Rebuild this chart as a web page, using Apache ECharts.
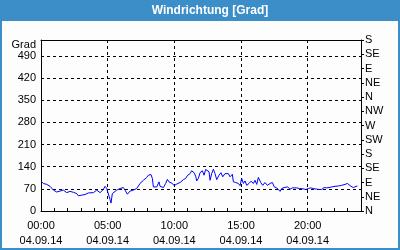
<!DOCTYPE html>
<html>
<head>
<meta charset="utf-8">
<script src="https://cdn.jsdelivr.net/npm/echarts@6/dist/echarts.min.js"></script>
<style>html,body{margin:0;padding:0;background:#fff}#c{width:400px;height:250px}</style>
</head>
<body>
<div id="c"></div>
<script>
var titleText = 'Windrichtung [Grad]';
var dateLabel = '04.09.14';
var leftAxisName = 'Grad';
var compassLabels = ['N','NE','E','SE','S','SW','W','NW','N','NE','E','SE','S'];
// hours since 00:00
var times = [0,0.18,0.43,0.68,0.93,1.18,1.43,1.68,1.93,2.18,2.43,2.68,2.8,3.05,3.3,3.55,3.68,3.93,4.18,4.43,4.68,4.8,4.93,5.05,5.18,5.25,5.35,5.48,5.68,5.93,6.18,6.3,6.48,6.68,6.93,7.18,7.43,7.68,7.93,
 8.05,8.25,8.35,8.43,8.68,8.85,8.93,9.05,9.18,9.35,9.48,9.6,9.75,9.85,9.98,10.18,10.43,10.68,10.85,11.0,11.18,11.3,11.48,11.6,11.68,11.8,11.93,12.1,12.23,12.35,12.48,12.6,12.68,12.8,12.93,13.05,13.18,13.35,13.5,13.63,13.8,13.93,14.05,14.18,14.35,14.43,14.6,14.8,14.93,15.05,15.18,15.3,15.43,15.6,15.75,15.93,
 16.05,16.18,16.3,16.48,16.63,16.8,16.98,17.18,17.35,17.5,17.68,17.8,17.93,18.05,18.23,18.38,18.5,18.68,18.85,19.0,19.18,19.38,19.55,19.68,19.85,20.05,20.23,20.43,20.55,20.68,20.85,21.05,21.23,21.43,21.6,21.8,22.05,22.3,22.55,22.8,22.98,23.13,23.25,23.43,23.63,23.73];
var values = [94,87,84,78,66,60,63,66,58,62,59,55,48,50,52,57,62,58,66,58,68,78,71,66,36,25,55,60,66,71,74,66,53,63,66,71,87,97,106,
 113,115,103,76,76,92,78,81,74,87,100,92,95,87,80,85,90,99,103,113,118,127,121,110,95,103,121,127,113,131,134,124,97,118,132,118,99,113,121,108,118,113,118,108,116,92,90,87,80,103,87,95,81,87,94,87,
 97,84,106,90,81,90,81,87,90,76,73,74,62,71,74,71,76,69,73,73,73,71,71,69,68,71,73,71,73,69,68,68,74,73,74,76,78,79,81,84,87,85,78,74,78,79];

var seriesData = times.map(function(t,i){return [t, values[i]];});
function pad(n){return (n<10?'0':'')+n;}
var font = 'Liberation Sans, Arial, sans-serif';
var chart = echarts.init(document.getElementById('c'), null, {renderer:'canvas'});
chart.setOption({
  animation:false,
  backgroundColor:'#fcfdfc',
  graphic:[
    {type:'rect', shape:{x:0,y:0,width:400,height:21}, style:{fill:'#3b8ec7'}, z:10},
    {type:'rect', shape:{x:1,y:1,width:398,height:248}, style:{fill:'none', stroke:'#3b8ec7', lineWidth:2}, z:10},
    {type:'text', x:210, y:11, style:{text:titleText, fill:'#ffffff', font:'bold 12px '+font, textAlign:'center', textVerticalAlign:'middle'}, z:11}
  ],
  grid:{left:41,right:39,top:40,bottom:39},
  xAxis:[
    {type:'value', min:0, max:24, interval:1, position:'bottom',
     axisLine:{show:true, onZero:false, lineStyle:{color:'#000', width:1}},
     axisTick:{show:true, inside:true, length:3, lineStyle:{color:'#000'}},
     splitLine:{show:false},
     axisLabel:{margin:7, color:'#000', fontFamily:font, fontSize:11, lineHeight:15,
       formatter:function(v){ if (v%5!==0 || v>=24) return ''; return pad(v)+':00\n'+dateLabel; }}},
    {type:'value', min:0, max:24, interval:5, position:'top',
     axisLine:{show:true, onZero:false, lineStyle:{color:'#000', width:1}},
     axisTick:{show:false}, axisLabel:{show:false},
     splitLine:{show:true, showMinLine:false, showMaxLine:false, lineStyle:{color:'#000', type:[3,3], width:1}}}
  ],
  yAxis:[
    {type:'value', min:0, max:540, interval:70, position:'left',
     name:leftAxisName, nameLocation:'end', nameGap:-6,
     nameTextStyle:{color:'#000', fontFamily:font, fontSize:11, align:'right', verticalAlign:'middle', padding:[0,5,0,0]},
     axisLine:{show:true, onZero:false, lineStyle:{color:'#000', width:1}},
     axisTick:{show:false},
     axisLabel:{margin:5, color:'#000', fontFamily:font, fontSize:11, showMaxLabel:false},
     splitLine:{show:true, showMinLine:false, showMaxLine:false, lineStyle:{color:'#000', type:[3,3], width:1}}},
    {type:'value', min:0, max:540, interval:45, position:'right',
     axisLine:{show:true, onZero:false, lineStyle:{color:'#000', width:1}},
     axisTick:{show:true, inside:false, length:3, lineStyle:{color:'#000'}},
     axisLabel:{margin:4, color:'#000', fontFamily:font, fontSize:11,
       formatter:function(v){ return compassLabels[Math.round(v/45)] || ''; }},
     splitLine:{show:false}}
  ],
  series:[{type:'line', xAxisIndex:0, yAxisIndex:0, data:seriesData, showSymbol:false, symbol:'none',
    lineStyle:{color:'#0000ff', width:1}, silent:true}]
});
</script>
</body>
</html>
